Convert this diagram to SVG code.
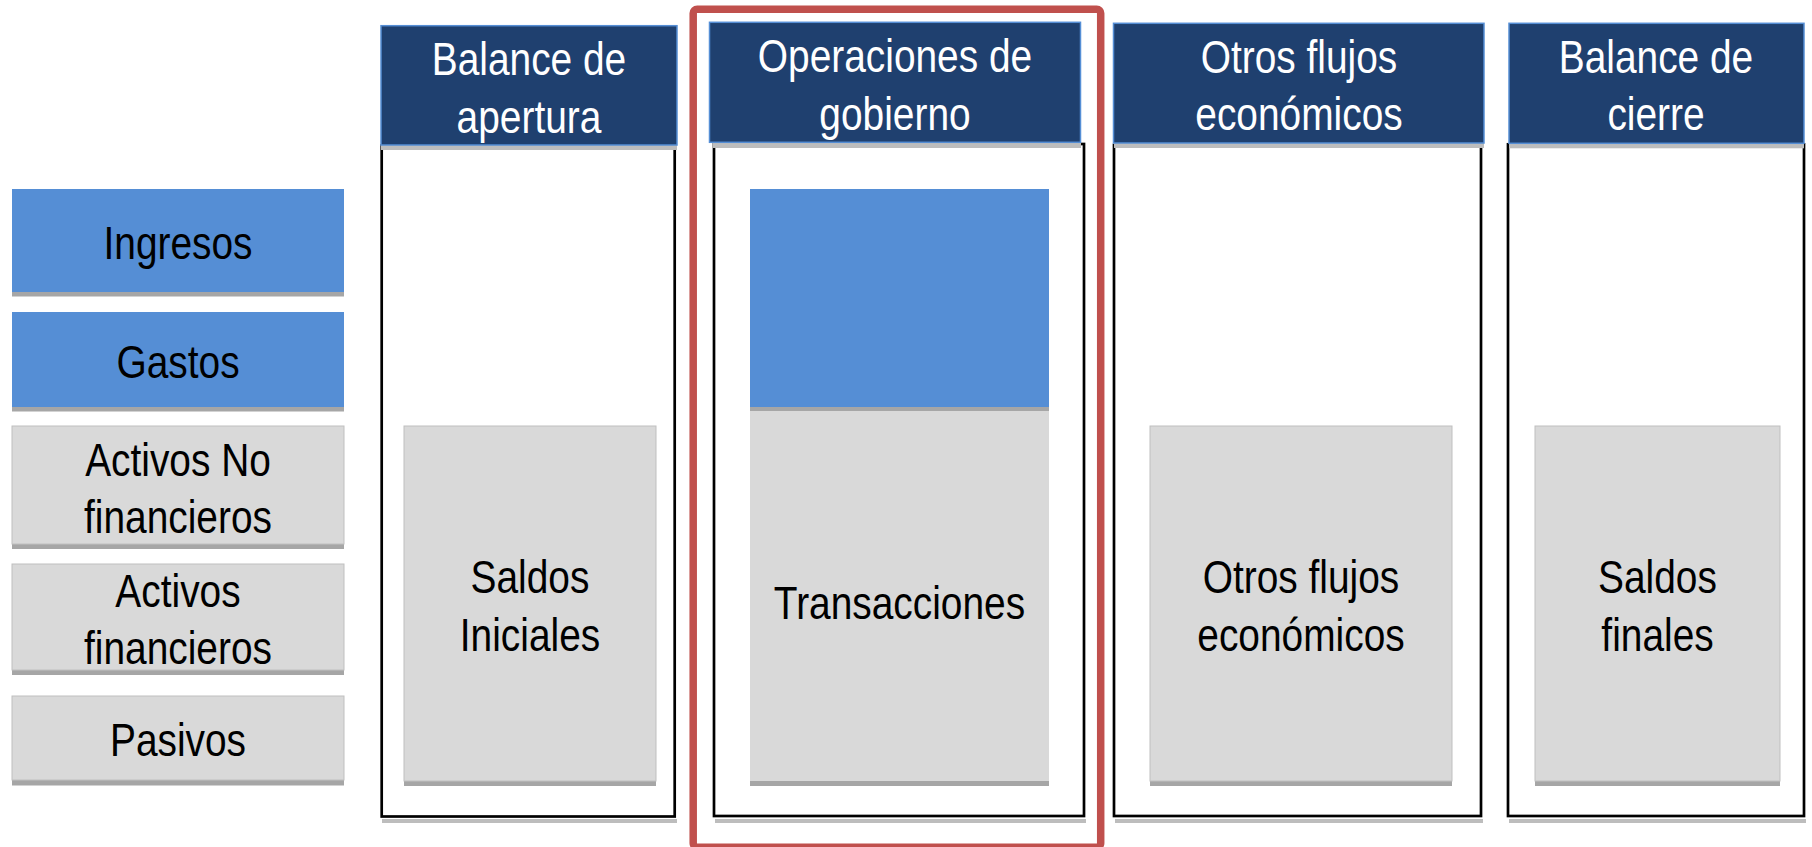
<svg xmlns="http://www.w3.org/2000/svg" width="1812" height="847" viewBox="0 0 1812 847">
<style>
.t{font-family:"Liberation Sans",Arial,sans-serif;font-size:46px;text-anchor:middle}
.dk{fill:#000}
.wh{fill:#fff}
.hdr{fill:#1F406F;stroke:#558ED5;stroke-width:1.5}
.blue{fill:#558ED5}
.gray{fill:#D9D9D9;stroke:#BFBFBF;stroke-width:1}
.sh{fill:#A6A6A6}
.col{fill:#fff;stroke:#000;stroke-width:2.7}
.colsh{fill:#BDBDBD}
</style>
<rect width="1812" height="847" fill="#fff"/>

<!-- Left category boxes -->
<g id="ingresos">
<rect class="sh" x="12" y="193.5" width="332" height="103"/>
<rect class="blue" x="12" y="189" width="332" height="103"/>
<text class="t dk" transform="translate(178,259.3) scale(0.845,1)">Ingresos</text>
</g>
<g id="gastos">
<rect class="sh" x="12" y="316.5" width="332" height="95"/>
<rect class="blue" x="12" y="312" width="332" height="95"/>
<text class="t dk" transform="translate(178,378.3) scale(0.845,1)">Gastos</text>
</g>
<g id="activos-no-financieros">
<rect class="sh" x="12" y="431" width="332" height="118"/>
<rect class="gray" x="12" y="426" width="332" height="118"/>
<text class="t dk" transform="translate(178,476) scale(0.845,1)">Activos No</text>
<text class="t dk" transform="translate(178,532.7) scale(0.845,1)">financieros</text>
</g>
<g id="activos-financieros">
<rect class="sh" x="12" y="569" width="332" height="106"/>
<rect class="gray" x="12" y="564" width="332" height="106"/>
<text class="t dk" transform="translate(178,606.7) scale(0.845,1)">Activos</text>
<text class="t dk" transform="translate(178,664) scale(0.845,1)">financieros</text>
</g>
<g id="pasivos">
<rect class="sh" x="12" y="701" width="332" height="84.5"/>
<rect class="gray" x="12" y="696" width="332" height="84"/>
<text class="t dk" transform="translate(178,756) scale(0.845,1)">Pasivos</text>
</g>

<!-- Column 1 -->
<g id="balance-apertura">
<rect class="colsh" x="382" y="819" width="295" height="4"/>
<rect class="col" x="381.7" y="145.5" width="293" height="671"/>
<rect class="colsh" x="381" y="145" width="296" height="5"/>
<rect class="hdr" x="381" y="25.7" width="296" height="119.3"/>
<text class="t wh" transform="translate(529,75) scale(0.845,1)">Balance de</text>
<text class="t wh" transform="translate(529,133) scale(0.845,1)">apertura</text>
<rect class="sh" x="404" y="430" width="252" height="356"/>
<rect class="gray" x="404" y="426" width="252" height="355"/>
<text class="t dk" transform="translate(530,593.3) scale(0.845,1)">Saldos</text>
<text class="t dk" transform="translate(530,650.7) scale(0.845,1)">Iniciales</text>
</g>

<!-- Column 2 -->
<g id="operaciones-gobierno">
<rect class="colsh" x="715" y="819" width="371" height="4"/>
<rect class="col" x="714" y="144" width="370" height="672"/>
<rect class="colsh" x="713" y="143" width="368" height="5"/>
<rect class="hdr" x="709.5" y="22.3" width="371" height="120"/>
<text class="t wh" transform="translate(895,72.3) scale(0.845,1)">Operaciones de</text>
<text class="t wh" transform="translate(895,130) scale(0.845,1)">gobierno</text>
<rect class="sh" x="750" y="407" width="299" height="379"/>
<rect x="750" y="411" width="299" height="370" fill="#D9D9D9"/>
<rect class="blue" x="750" y="189" width="299" height="218"/>
<text class="t dk" transform="translate(899.5,619.3) scale(0.845,1)">Transacciones</text>
</g>

<!-- Column 3 -->
<g id="otros-flujos">
<rect class="colsh" x="1115" y="819" width="368" height="4"/>
<rect class="col" x="1114" y="145" width="367" height="671"/>
<rect class="colsh" x="1114" y="143" width="370" height="5"/>
<rect class="hdr" x="1113.5" y="23.3" width="370.5" height="119.7"/>
<text class="t wh" transform="translate(1299,73.3) scale(0.845,1)">Otros flujos</text>
<text class="t wh" transform="translate(1299,130) scale(0.845,1)">económicos</text>
<rect class="sh" x="1150" y="430" width="302" height="356"/>
<rect class="gray" x="1150" y="426" width="302" height="355"/>
<text class="t dk" transform="translate(1301,593.3) scale(0.845,1)">Otros flujos</text>
<text class="t dk" transform="translate(1301,650.7) scale(0.845,1)">económicos</text>
</g>

<!-- Column 4 -->
<g id="balance-cierre">
<rect class="colsh" x="1509" y="819" width="297" height="4"/>
<rect class="col" x="1508" y="144.3" width="296" height="671.7"/>
<rect class="colsh" x="1509" y="143.3" width="295" height="5"/>
<rect class="hdr" x="1509" y="23.3" width="295" height="120"/>
<text class="t wh" transform="translate(1656,73.3) scale(0.845,1)">Balance de</text>
<text class="t wh" transform="translate(1656,130) scale(0.845,1)">cierre</text>
<rect class="sh" x="1535" y="430" width="245" height="356"/>
<rect class="gray" x="1535" y="426" width="245" height="355"/>
<text class="t dk" transform="translate(1657.5,593.3) scale(0.845,1)">Saldos</text>
<text class="t dk" transform="translate(1657.5,650.7) scale(0.845,1)">finales</text>
</g>

<!-- Highlight frame -->
<g id="connectors">
<rect x="693.2" y="9.2" width="407.5" height="838" rx="4" ry="4" fill="none" stroke="#C0504D" stroke-width="7.5"/>
</g>
</svg>
